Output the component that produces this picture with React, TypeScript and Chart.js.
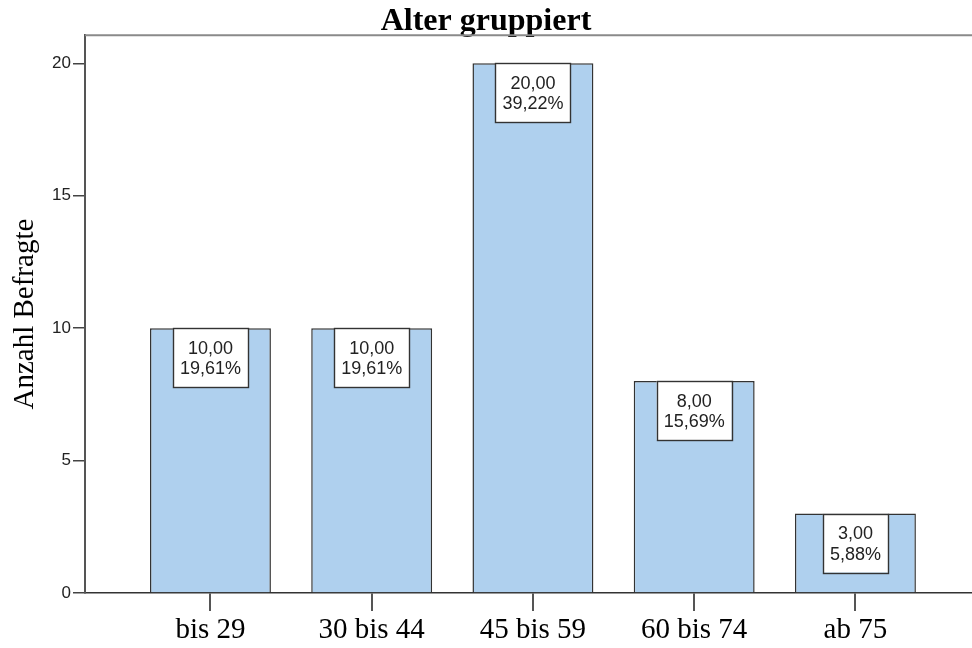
import React, { useEffect, useRef } from "react";
import { Chart, registerables } from "chart.js";

Chart.register(...registerables);

const categories = ["bis 29", "30 bis 44", "45 bis 59", "60 bis 74", "ab 75"];
const counts = [10, 10, 20, 8, 3];
const yTicks = [0, 5, 10, 15, 20];

const total = counts.reduce((a, b) => a + b, 0);
const countLabels = counts.map((v) => v.toFixed(2).replace(".", ","));
const percentLabels = counts.map((v) => ((v / total) * 100).toFixed(2).replace(".", ",") + "%");

const topBorderPlugin = {
  id: "topBorder",
  afterDraw(chart: any) {
    const { ctx, chartArea } = chart;
    ctx.save();
    ctx.strokeStyle = "#8a8a8a";
    ctx.lineWidth = 2;
    ctx.beginPath();
    ctx.moveTo(chartArea.left, chartArea.top);
    ctx.lineTo(chartArea.right, chartArea.top);
    ctx.stroke();
    ctx.restore();
  },
};

const boxLabelPlugin = {
  id: "boxLabels",
  afterDatasetsDraw(chart: any) {
    const { ctx } = chart;
    const meta = chart.getDatasetMeta(0);
    ctx.save();
    ctx.font = '18px "Liberation Sans"';
    meta.data.forEach((el: any, i: number) => {
      const l1 = countLabels[i];
      const l2 = percentLabels[i];
      const w = Math.max(ctx.measureText(l1).width, ctx.measureText(l2).width) + 14;
      const h = 59;
      const x = el.x;
      const top = el.y;
      ctx.fillStyle = "#ffffff";
      ctx.fillRect(x - w / 2, top, w, h);
      ctx.strokeStyle = "#333333";
      ctx.lineWidth = 1.4;
      ctx.strokeRect(Math.round(x - w / 2) + 0.5, Math.round(top) + 0.5, Math.round(w), h);
      ctx.fillStyle = "#222222";
      ctx.textAlign = "center";
      ctx.textBaseline = "middle";
      ctx.fillText(l1, x, top + 20.5);
      ctx.fillText(l2, x, top + 41);
    });
    ctx.restore();
  },
};

export default function App() {
  const ref = useRef<HTMLCanvasElement | null>(null);

  useEffect(() => {
    if (!ref.current) return;
    const chart = new Chart(ref.current, {
      type: "bar",
      data: {
        datasets: [
          {
            data: counts.map((v, i) => ({ x: i, y: v })),
            backgroundColor: "#AFD0EE",
            borderColor: "#333333",
            borderWidth: 1.5,
            barPercentage: 0.75,
            categoryPercentage: 1,
          },
        ],
      },
      options: {
        animation: false,
        responsive: false,
        maintainAspectRatio: false,
        layout: { padding: 0 },
        plugins: {
          legend: { display: false },
          tooltip: { enabled: false },
          title: {
            display: true,
            text: "Alter gruppiert",
            color: "#000000",
            font: { family: "Liberation Serif", size: 32, weight: "bold", lineHeight: 0.85 },
            padding: { top: 8, bottom: 0 },
          },
        },
        scales: {
          x: {
            type: "linear",
            min: -0.778,
            max: 4.723,
            offset: false,
            afterBuildTicks: (scale: any) => {
              scale.ticks = categories.map((_, i) => ({ value: i }));
            },
            afterFit: (scale: any) => {
              scale.height = 55;
            },
            ticks: {
              autoSkip: false,
              maxRotation: 0,
              padding: 2,
              color: "#000000",
              font: { family: "Liberation Serif", size: 29, lineHeight: 1.2 },
              callback: (v: any) => categories[v] ?? "",
            },
            grid: {
              offset: false,
              drawOnChartArea: false,
              drawTicks: true,
              tickLength: 18,
              color: "#555555",
              lineWidth: 2,
            },
            border: { display: true, color: "#333333", width: 1.5 },
          },
          y: {
            min: 0,
            max: 21.06,
            afterBuildTicks: (scale: any) => {
              scale.ticks = yTicks.map((v) => ({ value: v }));
            },
            afterFit: (scale: any) => {
              scale.width = 85;
            },
            ticks: {
              padding: 2,
              color: "#222222",
              font: { family: "Liberation Sans", size: 17 },
            },
            grid: {
              drawOnChartArea: false,
              drawTicks: true,
              tickLength: 12,
              color: "#444444",
              lineWidth: 1.5,
            },
            border: { display: true, color: "#555555", width: 2 },
            title: {
              display: true,
              text: "Anzahl Befragte",
              color: "#000000",
              font: { family: "Liberation Serif", size: 29, lineHeight: 1 },
              padding: { top: 11, bottom: 0 },
            },
          },
        },
      } as any,
      plugins: [topBorderPlugin, boxLabelPlugin],
    });
    return () => chart.destroy();
  }, []);

  return (
    <div style={{ position: "absolute", left: 0, top: 0, width: 972, height: 648, background: "#ffffff" }}>
      <canvas ref={ref} width={972} height={648} style={{ width: 972, height: 648, display: "block" }} />
    </div>
  );
}
